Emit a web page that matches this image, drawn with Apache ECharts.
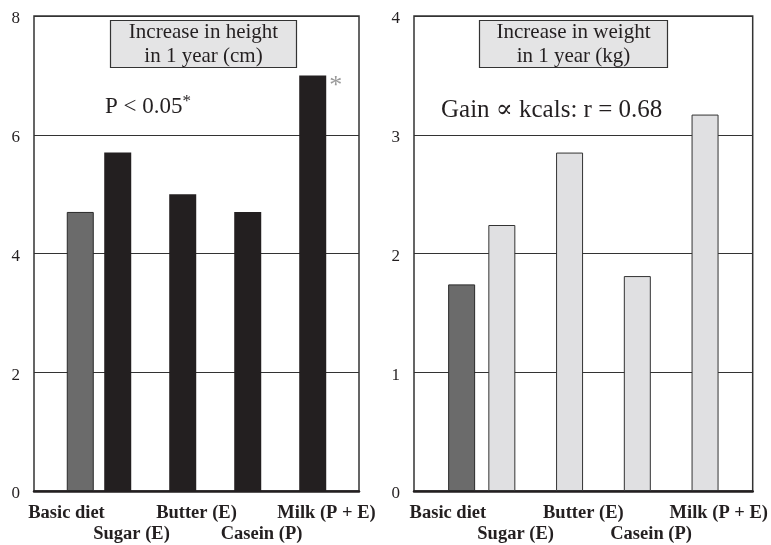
<!DOCTYPE html>
<html>
<head>
<meta charset="utf-8">
<script src="https://cdn.jsdelivr.net/npm/echarts@6/dist/echarts.min.js"></script>
<style>
  html, body { margin: 0; padding: 0; background: #fff; }
  #chart { width: 771px; height: 545px; }
</style>
</head>
<body>
<div id="chart"></div>
<script>
// Diet groups and one-year gains
const categories = ['Basic diet', 'Sugar (E)', 'Butter (E)', 'Casein (P)', 'Milk (P + E)'];
const heightGain = [4.7, 5.7, 5.0, 4.7, 7.0];      // cm
const weightGain = [1.74, 2.24, 2.85, 1.81, 3.17]; // kg
const heightTicks = { min: 0, max: 8, interval: 2 };
const weightTicks = { min: 0, max: 4, interval: 1 };
const significant = [false, false, false, false, true];

const INK = '#231f20';
const SERIF = '"Liberation Serif", "DejaVu Serif", serif';

// basic diet drawn separately from the supplemented diets
const basicOnly = v => v.map((x, i) => (i === 0 ? x : null));
const dietsOnly = v => v.map((x, i) => (i === 0 ? null : x));

function xAxis(gridIndex) {
  return {
    type: 'category', gridIndex, data: categories,
    axisTick: { show: false },
    axisLine: { show: true, lineStyle: { color: INK, width: 2.5 } },
    axisLabel: {
      interval: 0, margin: 12, hideOverlap: false,
      fontFamily: SERIF, fontWeight: 'bold', fontSize: 18.5, color: INK, lineHeight: 21,
      formatter: (v, i) => (i % 2 ? '\n' + v : v)
    }
  };
}
function yAxis(gridIndex, t) {
  return {
    type: 'value', gridIndex, min: t.min, max: t.max, interval: t.interval,
    axisLine: { show: false }, axisTick: { show: false },
    splitLine: { show: true, lineStyle: { color: '#333', width: 1.2 } },
    axisLabel: { margin: 14, fontFamily: SERIF, fontSize: 17, color: INK,
                 verticalAlign: 'top', lineHeight: 6 }
  };
}
// grey caption box with two centred lines
function boxTitle(lines, left) {
  return {
    text: lines.map(l => '{t|' + l + '}').join('\n'),
    left, top: 19,
    backgroundColor: '#e4e4e5', borderColor: '#333', borderWidth: 1.2,
    padding: [1, 17, 1, 17],
    textStyle: {
      fontWeight: 'normal',
      rich: { t: { width: 153, align: 'center', fontFamily: SERIF, fontWeight: 'normal',
                   fontSize: 21, lineHeight: 24, color: INK } }
    }
  };
}
function noteTitle(text, left, top, size) {
  return {
    text, left, top,
    textStyle: {
      fontFamily: SERIF, fontWeight: 'normal', fontSize: size, color: INK,
      rich: {
        m: { fontFamily: SERIF, fontWeight: 'normal', fontSize: size, color: INK },
        s: { fontFamily: SERIF, fontWeight: 'normal', fontSize: 17, color: INK,
             verticalAlign: 'top', padding: [0, 0, 10, 0] }
      }
    }
  };
}

const option = {
  animation: false,
  backgroundColor: '#fff',
  title: [
    boxTitle(['Increase in height', 'in 1 year (cm)'], 110),
    boxTitle(['Increase in weight', 'in 1 year (kg)'], 480),
    noteTitle('{m|P < 0.05}{s|*}', 100, 88, 23),
    noteTitle('Gain \u221d kcals: r = 0.68', 436, 93, 25)
  ],
  grid: [
    { left: 34, right: 412, top: 16, bottom: 51, show: true, borderColor: '#333', borderWidth: 1.5 },
    { left: 414, right: 18, top: 16, bottom: 53, show: true, borderColor: '#333', borderWidth: 1.5 }
  ],
  xAxis: [xAxis(0), xAxis(1)],
  yAxis: [yAxis(0, heightTicks), yAxis(1, weightTicks)],
  series: [
    {
      type: 'bar', xAxisIndex: 0, yAxisIndex: 0, barWidth: 27, barGap: '2%',
      data: dietsOnly(heightGain).map((v, i) => (significant[i] ? {
        value: v,
        label: { show: true, formatter: '*', position: ['100%', 0], offset: [3, -2],
                 fontFamily: SERIF, fontSize: 26, color: '#999' }
      } : v)),
      itemStyle: { color: INK }
    },
    {
      type: 'bar', xAxisIndex: 0, yAxisIndex: 0, barWidth: 27,
      data: basicOnly(heightGain),
      itemStyle: { color: '#6b6b6b', borderColor: '#2a2a2a', borderWidth: 1 }
    },
    {
      type: 'bar', xAxisIndex: 1, yAxisIndex: 1, barWidth: 27, barGap: '2%',
      data: dietsOnly(weightGain),
      itemStyle: { color: '#e0e0e2', borderColor: '#333', borderWidth: 1 }
    },
    {
      type: 'bar', xAxisIndex: 1, yAxisIndex: 1, barWidth: 27,
      data: basicOnly(weightGain),
      itemStyle: { color: '#6b6b6b', borderColor: '#2a2a2a', borderWidth: 1 }
    }
  ]
};

echarts.init(document.getElementById('chart'), null, { renderer: 'canvas' }).setOption(option);
</script>
</body>
</html>
